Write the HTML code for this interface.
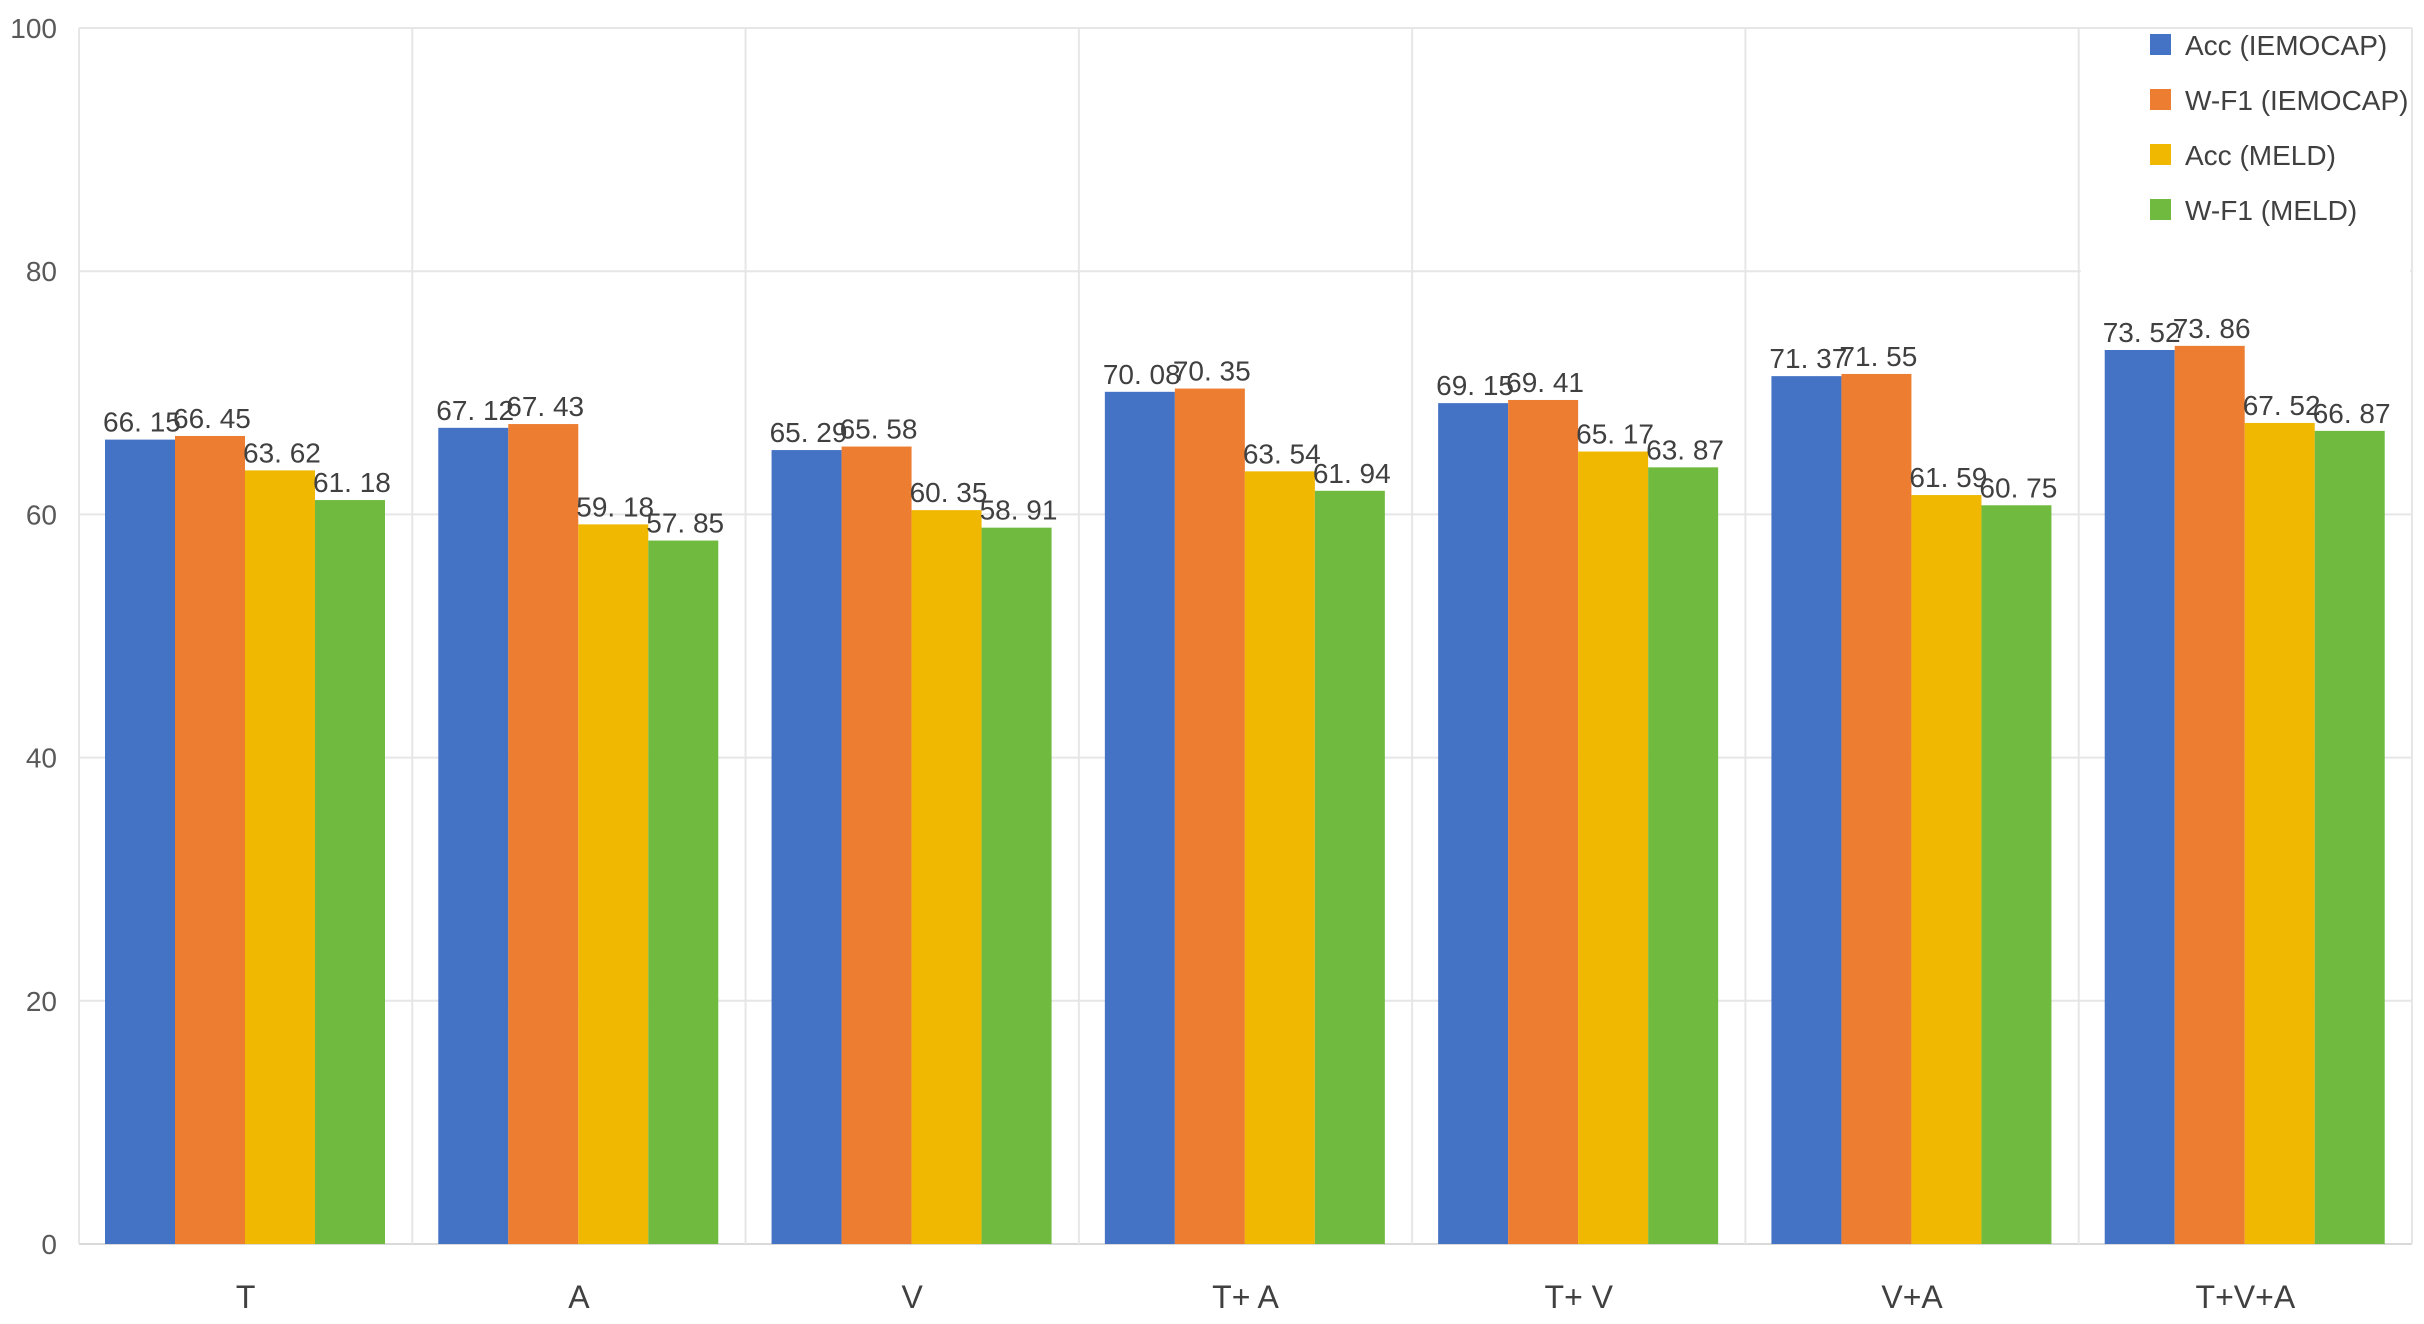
<!DOCTYPE html>
<html><head><meta charset="utf-8">
<style>
html,body{margin:0;padding:0;background:#fff;}
svg{display:block;font-family:"Liberation Sans","Noto Sans CJK SC",sans-serif;}
</style></head>
<body>
<svg id="chart" width="2424" height="1324" viewBox="0 0 2424 1324" xmlns="http://www.w3.org/2000/svg">
<g id="grid"></g>
<g id="yaxis"></g>
<g id="bars"></g>
<g id="xaxis"></g>
<g id="legend"></g>
</svg>
<script>
const categories = ["T","A","V","T+ A","T+ V","V+A","T+V+A"];
const accIemocap = [66.15,67.12,65.29,70.08,69.15,71.37,73.52];
const wf1Iemocap = [66.45,67.43,65.58,70.35,69.41,71.55,73.86];
const accMeld = [63.62,59.18,60.35,63.54,65.17,61.59,67.52];
const wf1Meld = [61.18,57.85,58.91,61.94,63.87,60.75,66.87];
const seriesNames = ["Acc (IEMOCAP)","W-F1 (IEMOCAP)","Acc (MELD)","W-F1 (MELD)"];
const yTicks = [0,20,40,60,80,100];

const series = [accIemocap,wf1Iemocap,accMeld,wf1Meld];
const colors = ["#4472C4","#ED7D31","#F0B800","#70BA3F"];
const NS = "http://www.w3.org/2000/svg";
const L = 79, R = 2412, T0 = 28, B0 = 1244;
const catW = (R - L) / categories.length;
const barW = 70, groupOff = 26;
function y(v){ return B0 - (v/100)*(B0 - T0); }
function x(i){ return L + i*catW; }
function mk(tag, attrs, parent){
  const e = document.createElementNS(NS, tag);
  for (const k in attrs) e.setAttribute(k, attrs[k]);
  parent.appendChild(e); return e;
}
const grid = document.getElementById('grid');
const yaxis = document.getElementById('yaxis');
const bars = document.getElementById('bars');
const xaxis = document.getElementById('xaxis');
const legend = document.getElementById('legend');

yTicks.forEach(t => {
  const ln = mk('line',{x1:L,x2:R,y1:y(t),y2:y(t),stroke:t===0?'#d9d9d9':'#e6e6e6','stroke-width':2},grid);
  
  
  const tx = mk('text',{x:57,y:y(t)+10,'text-anchor':'end','font-size':28,fill:'#595959'},yaxis);
  tx.textContent = t;
  
  
});
for (let i=0;i<=categories.length;i++){
  const ln = mk('line',{x1:x(i),x2:x(i),y1:T0,y2:B0,stroke:'#e6e6e6','stroke-width':2},grid);
  
  
}
const lbg = mk('rect',{x:x(6)+2,y:T0+2,width:R-x(6)-4,height:248,fill:'#fff'},grid);



categories.forEach((c,i) => {
  series.forEach((s,j) => {
    const bx = x(i) + groupOff + j*barW;
    const r = mk('rect',{x:bx,y:y(s[i]),width:barW,height:B0-y(s[i]),fill:colors[j]},bars);
    
    
    const lb = mk('text',{x:bx-2,y:y(s[i])-8,'font-size':28,fill:'#404040'},bars);
    lb.textContent = s[i].toFixed(2).replace('.', '. ');
    
    
  });
  const tx = mk('text',{x:x(i)+catW/2,y:1308,'text-anchor':'middle','font-size':32,fill:'#404040'},xaxis);
  tx.textContent = c;
  
  
});

seriesNames.forEach((n,j) => {
  const yy = 45 + j*55;
  const sq = mk('rect',{x:2150,y:yy-11,width:21,height:21,fill:colors[j]},legend);
  
  
  const tx = mk('text',{x:2185,y:yy+10,'font-size':28,fill:'#404040'},legend);
  tx.textContent = n;
  
  
});
</script>
</body></html>
